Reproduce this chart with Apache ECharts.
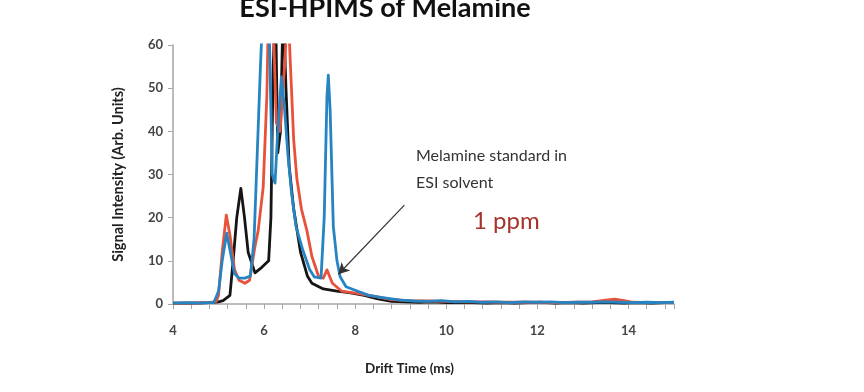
<!DOCTYPE html>
<html><head><meta charset="utf-8">
<script src="https://cdn.jsdelivr.net/npm/echarts@6/dist/echarts.min.js"></script>
<style>html,body{margin:0;padding:0;background:#fff}#c{width:864px;height:392px}</style>
</head><body><div id="c"></div>
<script>
const xTicks = [4, 6, 8, 10, 12, 14];
const yTicks = [0, 10, 20, 30, 40, 50, 60];

const blackT = [4.0,4.4,4.8,5.0,5.1,5.25,5.32,5.4,5.49,5.57,5.65,5.8,5.95,6.1,6.15,6.2,6.25,6.3,6.36,6.42,6.48,6.55,6.65,6.8,6.95,7.05,7.3,7.6,7.9,8.2,8.5,8.8,9.1,9.4,9.7,10.0,10.3,10.6,10.9,11.2,11.5,11.8,12.1,12.4,12.7,13.0,13.3,13.6,13.9,14.2,14.5,14.8,15.0];
const blackV = [0.2,0.2,0.3,0.5,0.8,2,10,20,26.8,20,12,7.2,8.5,10,20,55,70,35,40,70,50,32,22,12,6.5,4.8,3.5,3.0,2.6,2.0,1.2,0.6,0.5,0.4,0.5,0.3,0.4,0.3,0.2,0.3,0.2,0.3,0.4,0.2,0.3,0.2,0.3,0.3,0.2,0.3,0.2,0.3,0.3];

const redT = [4.0,4.4,4.8,4.95,5.0,5.08,5.17,5.25,5.35,5.45,5.58,5.68,5.8,5.87,5.98,6.06,6.1,6.2,6.27,6.35,6.45,6.52,6.58,6.65,6.72,6.82,6.94,7.05,7.2,7.3,7.38,7.5,7.7,8.0,8.4,8.8,9.2,9.6,10.0,10.4,10.8,11.2,11.6,12.0,12.4,12.8,13.2,13.5,13.7,13.9,14.1,14.5,15.0];
const redV = [0.2,0.2,0.3,0.6,2,12,20.6,16,8,5.5,4.8,5.5,13.3,17,27,48,70,65,42,40,55,70,55,38,29,22,17,11,6.3,6.0,7.9,4.8,3.0,2.5,1.8,1.0,0.8,0.7,0.6,0.5,0.5,0.4,0.4,0.4,0.3,0.4,0.5,0.9,1.1,0.8,0.4,0.3,0.3];

const blueT = [4.0,4.3,4.6,4.9,5.0,5.08,5.18,5.26,5.35,5.45,5.58,5.7,5.78,5.85,5.92,6.0,6.1,6.18,6.24,6.3,6.38,6.45,6.52,6.6,6.7,6.85,7.0,7.1,7.25,7.32,7.38,7.41,7.45,7.52,7.6,7.67,7.8,8.0,8.3,8.6,9.0,9.3,9.6,9.9,10.2,10.5,10.8,11.1,11.4,11.7,12.0,12.3,12.6,12.9,13.2,13.5,13.8,14.1,14.4,14.7,15.0];
const blueV = [0.2,0.3,0.2,0.4,3,10,16.4,12,7,6,6,6.5,15,35,55,75,70,30,28,40,52.6,45,35,26,18,12.5,8,6.3,6,20,48,53,45,18,10,6.3,4,3.2,2,1.5,0.9,0.7,0.6,0.8,0.5,0.6,0.4,0.5,0.3,0.5,0.4,0.5,0.3,0.4,0.4,0.5,0.4,0.3,0.4,0.3,0.4];

const pairs = (t, v) => t.map((x, i) => [x, v[i]]);
const font = 'Lato, "Open Sans", sans-serif';

const chart = echarts.init(document.getElementById('c'));
const lineSeries = (name, t, v, color) => ({
  name, type: 'line', data: pairs(t, v), showSymbol: false, smooth: false,
  clip: true, lineStyle: { color, width: 2.8, join: 'round' }, itemStyle: { color }, z: 2
});

const s3 = lineSeries('blue', blueT, blueV, '#2784c3');
s3.markLine = {
  silent: true, symbol: ['none', 'arrow'], symbolSize: [9, 11],
  label: { show: false },
  lineStyle: { color: '#333', width: 1.2, type: 'solid' },
  data: [[{ coord: [9.08, 22.9] }, { coord: [7.63, 6.9] }]]
};

chart.setOption({
  animation: false,
  title: {
    text: 'ESI-HPIMS of Melamine', left: 380, top: -10, textAlign: 'center',
    textStyle: { fontFamily: font, fontWeight: 'bold', fontSize: 27, color: '#111' }
  },
  grid: { left: 173, top: 45, width: 501, height: 259, containLabel: false },
  xAxis: {
    type: 'value', min: 4, max: 15, interval: 2,
    name: 'Drift Time (ms)', nameLocation: 'middle', nameGap: 58,
    nameTextStyle: { fontFamily: font, fontWeight: 'bold', fontSize: 13.5, color: '#222', padding: [0, 28, 0, 0] },
    axisLine: { lineStyle: { color: '#a6a6a6', width: 1.5 } },
    axisTick: { show: true, length: 5, lineStyle: { color: '#a6a6a6' } },
    minorTick: { show: true, splitNumber: 5, length: 5, lineStyle: { color: '#a6a6a6' } },
    splitLine: { show: false },
    axisLabel: {
      margin: 20, fontFamily: font, fontWeight: 'bold', fontSize: 13, color: '#444',
      showMaxLabel: false,
      formatter: v => xTicks.includes(v) ? String(v) : ''
    }
  },
  yAxis: {
    type: 'value', min: 0, max: 60, interval: 10,
    name: 'Signal Intensity (Arb. Units)', nameLocation: 'middle', nameGap: 47,
    nameTextStyle: { fontFamily: font, fontWeight: 'bold', fontSize: 14.5, color: '#222' },
    axisLine: { show: true, lineStyle: { color: '#a6a6a6', width: 1.5 } },
    axisTick: { show: true, length: 5, lineStyle: { color: '#a6a6a6' } },
    splitLine: { show: false },
    axisLabel: {
      margin: 10, fontFamily: font, fontWeight: 'bold', fontSize: 13, color: '#444',
      formatter: v => yTicks.includes(v) ? String(v) : ''
    }
  },
  series: [
    lineSeries('black', blackT, blackV, '#151515'),
    lineSeries('red', redT, redV, '#e9523a'),
    s3
  ],
  graphic: [
    { type: 'text', left: 416, top: 148, style: { text: 'Melamine standard in', fontFamily: font, fontSize: 16, fill: '#333' } },
    { type: 'text', left: 416, top: 175, style: { text: 'ESI solvent', fontFamily: font, fontSize: 16, fill: '#333' } },
    { type: 'text', left: 473, top: 209, style: { text: '1 ppm', fontFamily: font, fontSize: 24, fill: '#a8322c' } }
  ]
});
</script></body></html>
